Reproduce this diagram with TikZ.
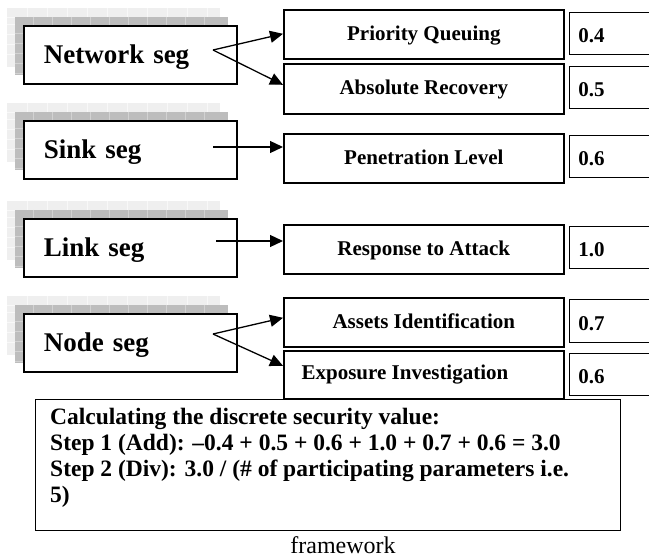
\documentclass[tikz,border=0pt]{standalone}
\usepackage{fontspec}
\setmainfont{Liberation Serif}
\usetikzlibrary{arrows.meta,calc}
\definecolor{shlight}{HTML}{EFEFEF}
\definecolor{shlightgrid}{HTML}{F8F8F8}
\definecolor{shdark}{HTML}{BDBDBD}
\definecolor{shdarkgrid}{HTML}{D2D2D2}
\begin{document}
\begin{tikzpicture}[x=1pt,y=-1pt,
  segbox/.style={draw,fill=white,line width=1.6pt,anchor=north west,minimum width=213pt,minimum height=58pt,text width=173pt,inner xsep=20pt,inner ysep=0pt,align=left,font=\fontsize{27}{30}\selectfont\bfseries,text height=18pt,text depth=0pt},
  parbox/.style={draw,line width=1.6pt,anchor=north west,minimum width=280pt,inner sep=0pt,font=\fontsize{21}{24}\selectfont\bfseries,text height=12pt,text depth=0pt},
  valbox/.style={draw,line width=0.9pt,anchor=north west,minimum height=42pt,text width=72pt,inner xsep=9pt,inner ysep=0pt,align=left,font=\fontsize{21}{24}\selectfont\bfseries,text height=19pt,text depth=0pt},
  conn/.style={line width=1.3pt,-{Triangle[length=13pt,width=12pt]}},
  calctext/.style={anchor=base west,inner sep=0pt,font=\fontsize{23.5}{26}\selectfont\bfseries}
]
\useasboundingbox (0,0) rectangle (649,559);
\clip (0,0) rectangle (649,559);
% shadows of the segment boxes
\foreach \t in {25,120,218,313} {
  \fill[shlight] (7,\t-17) rectangle (220,\t+42);
  \draw[shlightgrid,line width=0.7pt] (7,\t-8) -- (220,\t-8);
  \foreach \gx in {27,47,...,207} {\draw[shlightgrid,line width=0.7pt] (\gx,\t-17) -- (\gx,\t-8);}
  \foreach \gy in {-1,9,19,29} {\draw[shlightgrid,line width=0.7pt] (7,\t+\gy) -- (15,\t+\gy);}
  \fill[shdark] (15,\t-8) rectangle (228,\t+50);
  \foreach \gx in {33,52,...,220} {\draw[shdarkgrid,line width=0.7pt] (\gx,\t-8) -- (\gx,\t);}
  \foreach \gy in {8,18,28,38,48} {\draw[shdarkgrid,line width=0.7pt] (15,\t+\gy) -- (23,\t+\gy);}
}
% segment boxes
\node[segbox] (net) at (23,25) {Network seg};
\node[segbox] (sink) at (23,120) {Sink seg};
\node[segbox] (link) at (23,218) {Link seg};
\node[segbox] (nodeseg) at (23,313) {Node seg};
% parameter boxes
\node[parbox,minimum height=49pt] (pq) at (283,9) {Priority Queuing};
\node[parbox,minimum height=50pt] (ar) at (283,63) {Absolute Recovery};
\node[parbox,minimum height=49pt] (pl) at (283,133) {Penetration Level};
\node[parbox,minimum height=49pt] (ra) at (283,224) {Response to Attack};
\node[parbox,minimum height=49pt] (ai) at (283,297) {Assets Identification};
\node[parbox,minimum height=48pt] (ei) at (283,350) {};
\node[anchor=base,inner sep=0pt,font=\fontsize{21}{24}\selectfont\bfseries] (eitext) at (405,380) {Exposure Investigation};
% value boxes
\node[valbox] (vq) at (569,12) {0.4};
\node[valbox] (va) at (569,66) {0.5};
\node[valbox] (vp) at (569,135) {0.6};
\node[valbox] (vr) at (569,226) {1.0};
\node[valbox,minimum height=43pt] (vai) at (569,299) {0.7};
\node[valbox] (ve) at (569,353) {0.6};
% connectors
\coordinate (netsrc) at (213,50);
\draw[conn] (netsrc) -- ([yshift=0.5pt]pq.west);
\draw[conn] (netsrc) -- ([yshift=4pt]ar.west);
\coordinate (sinksrc) at (213,147);
\draw[conn] (sinksrc) -- (pl.west |- sinksrc);
\coordinate (linksrc) at (216,241);
\draw[conn] (linksrc) -- (ra.west |- linksrc);
\coordinate (nodesrc) at (213,334);
\draw[conn] (nodesrc) -- ([yshift=4.5pt]ai.west);
\draw[conn] (nodesrc) -- ([yshift=9pt]ei.west);
% calculation box
\node[draw,line width=0.9pt,anchor=north west,minimum width=585pt,minimum height=131pt,inner sep=0pt] (calcbox) at (35,399) {};
\node[calctext] (calc1) at (50,424) {Calculating the discrete security value:};
\node[calctext] (calc2) at (50,450) {Step 1 (Add): –0.4 + 0.5 + 0.6 + 1.0 + 0.7 + 0.6 = 3.0};
\node[calctext] (calc3) at (50,476) {Step 2 (Div): 3.0 / (\# of participating parameters i.e.};
\node[calctext] (calc4) at (50,502) {5)};
\node[anchor=base,inner sep=0pt,text depth=0pt,font=\fontsize{24}{26}\selectfont] (caption) at (343,553) {framework};
\end{tikzpicture}
\end{document}
